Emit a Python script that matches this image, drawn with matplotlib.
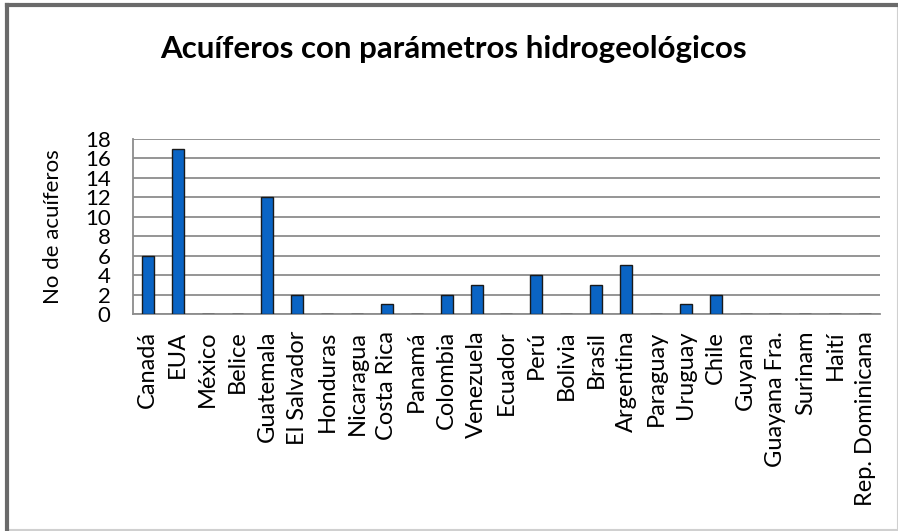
import matplotlib.pyplot as plt
import numpy as np
from matplotlib.patches import Rectangle

paises = ["Canadá", "EUA", "México", "Belice", "Guatemala", "El Salvador",
          "Honduras", "Nicaragua", "Costa Rica", "Panamá", "Colombia",
          "Venezuela", "Ecuador", "Perú", "Bolivia", "Brasil", "Argentina",
          "Paraguay", "Uruguay", "Chile", "Guyana", "Guayana Fra.", "Surinam",
          "Haití", "Rep. Dominicana"]
acuiferos = [6, 17, 0, 0, 12, 2, 0, 0, 1, 0, 2, 3, 0, 4, 0, 3, 5, 0, 1, 2,
             0, 0, 0, 0, 0]
yticks = list(range(0, 19, 2))

plt.rcParams['font.family'] = ['Lato', 'DejaVu Sans']

fig = plt.figure(figsize=(8.98, 5.31), dpi=100)
ax = fig.add_axes([0.148, 0.4087, 0.832, 0.3296])

x = np.arange(len(paises))
ax.bar(x, acuiferos, width=0.4, color="#0a64c4", edgecolor="#1a1a1a",
       linewidth=1.0, zorder=3)
ax.set_xlim(-0.5, len(paises) - 0.5)
ax.set_ylim(0, 18)
ax.set_yticks(yticks)
ax.set_yticklabels([str(v) for v in yticks], fontsize=16)
ax.set_xticks(x)
ax.set_xticklabels(paises, rotation=90, fontsize=17)
ax.yaxis.grid(True, color="#8c8c8c", linewidth=1.3, zorder=0)
ax.tick_params(axis="x", length=0, pad=12)
ax.tick_params(axis="y", length=0, pad=16)
for s in ["top", "right"]:
    ax.spines[s].set_visible(False)
ax.spines["left"].set_color("#8c8c8c")
ax.spines["bottom"].set_color("#8c8c8c")
ax.spines["left"].set_linewidth(1.3)
ax.spines["bottom"].set_linewidth(1.3)
ax.set_ylabel("No de acuíferos", fontsize=16, labelpad=16)

fig.text(0.505, 0.908, "Acuíferos con parámetros hidrogeológicos",
         ha="center", va="center", fontsize=22.5, fontweight="bold")

# marco
fig.patches.append(Rectangle((0.008, 0.002), 0.992, 0.988, transform=fig.transFigure,
                             fill=False, edgecolor="#d0d0d0", linewidth=1.5))
fig.lines.append(plt.Line2D([0.008, 0.008], [0.002, 0.99], transform=fig.transFigure,
                            color="#6a6a6a", linewidth=3))
fig.lines.append(plt.Line2D([0.008, 1.0], [0.99, 0.99], transform=fig.transFigure,
                            color="#6a6a6a", linewidth=3))

fig.savefig("out.png", dpi=100)
